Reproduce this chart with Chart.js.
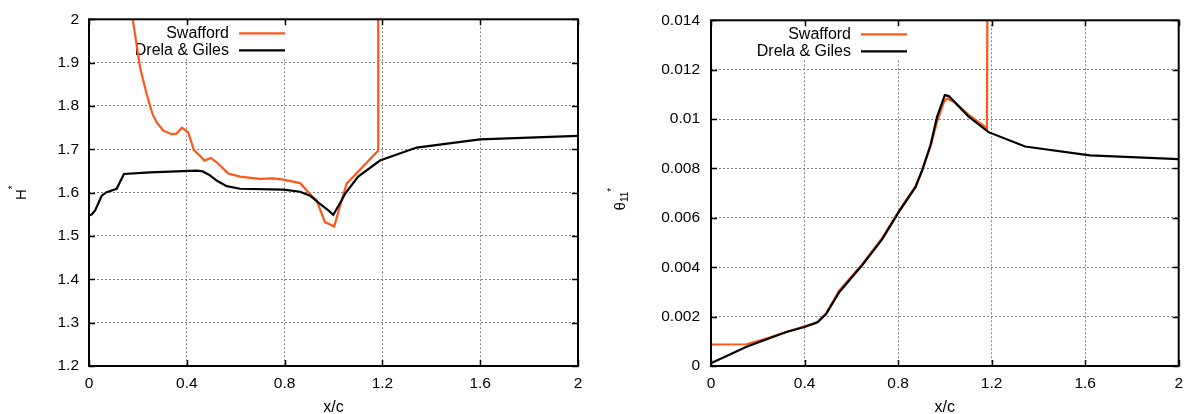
<!DOCTYPE html>
<html>
<head>
<meta charset="utf-8">
<script src="https://cdn.jsdelivr.net/npm/chart.js@4.4.1/dist/chart.umd.min.js"></script>
<style>
html,body{margin:0;padding:0;background:#fff;}
#c1{position:absolute;left:0;top:0;}
#c2{position:absolute;left:600px;top:0;}
</style>
</head>
<body>
<canvas id="c1" width="600" height="414"></canvas>
<canvas id="c2" width="591" height="414"></canvas>
<script>
// ---- tick values and labels ----
const xTicks = [0, 0.4, 0.8, 1.2, 1.6, 2];
const xTickLabels = ['0', '0.4', '0.8', '1.2', '1.6', '2'];
const hTicks = [1.2, 1.3, 1.4, 1.5, 1.6, 1.7, 1.8, 1.9, 2];
const hTickLabels = ['1.2', '1.3', '1.4', '1.5', '1.6', '1.7', '1.8', '1.9', '2'];
const thetaTicks = [0, 0.002, 0.004, 0.006, 0.008, 0.01, 0.012, 0.014];
const thetaTickLabels = ['0', '0.002', '0.004', '0.006', '0.008', '0.01', '0.012', '0.014'];
const seriesNames = ['Swafford', 'Drela & Giles'];
const xTitle = 'x/c';

// ---- left panel: H* ----
const swaffordHx = [0.15, 0.179, 0.209, 0.236, 0.26, 0.277, 0.304, 0.338, 0.358, 0.38, 0.406, 0.429, 0.454, 0.472, 0.498, 0.522, 0.57, 0.618, 0.699, 0.754, 0.795, 0.863, 0.904, 0.931, 0.965, 1.003, 1.033, 1.054, 1.183, 1.183];
const swaffordH  = [2.11, 2.0, 1.888, 1.827, 1.781, 1.762, 1.743, 1.735, 1.736, 1.75, 1.739, 1.698, 1.685, 1.674, 1.68, 1.67, 1.644, 1.637, 1.632, 1.633, 1.63, 1.622, 1.597, 1.582, 1.532, 1.522, 1.582, 1.621, 1.697, 2.5];
const drelaHx = [0, 0.012, 0.025, 0.052, 0.072, 0.113, 0.143, 0.249, 0.44, 0.465, 0.495, 0.522, 0.563, 0.618, 0.795, 0.863, 0.904, 0.945, 0.979, 0.999, 1.033, 1.047, 1.101, 1.19, 1.34, 1.599, 2.0];
const drelaH  = [1.547, 1.55, 1.559, 1.593, 1.601, 1.609, 1.643, 1.647, 1.651, 1.649, 1.64, 1.628, 1.615, 1.609, 1.607, 1.602, 1.593, 1.574, 1.559, 1.549, 1.582, 1.597, 1.637, 1.674, 1.704, 1.723, 1.731];

// ---- right panel: theta11* ----
const swaffordTx = [0, 0.152, 0.237, 0.322, 0.40, 0.45, 0.492, 0.549, 0.648, 0.733, 0.804, 0.875, 0.904, 0.939, 0.967, 0.996, 1.01, 1.038, 1.102, 1.18, 1.184];
const swaffordT  = [0.00087, 0.00088, 0.00111, 0.00138, 0.00161, 0.00174, 0.00212, 0.00306, 0.00413, 0.0052, 0.00628, 0.00728, 0.00795, 0.0089, 0.0099, 0.0107, 0.01083, 0.0107, 0.01017, 0.00963, 0.02];
const drelaTx = [0, 0.152, 0.322, 0.40, 0.457, 0.492, 0.549, 0.648, 0.733, 0.804, 0.875, 0.904, 0.939, 0.967, 1.0, 1.017, 1.102, 1.187, 1.343, 1.62, 2.0];
const drelaT  = [0.00011, 0.00078, 0.00138, 0.00158, 0.00178, 0.0021, 0.003, 0.0041, 0.00515, 0.00625, 0.00725, 0.00795, 0.00896, 0.0101, 0.01097, 0.01093, 0.0101, 0.00947, 0.00889, 0.00853, 0.00838];

const ORANGE = '#ff5518';
const BLACK = '#000000';
const FONT = '"Liberation Sans", Arial, Helvetica, sans-serif';

Chart.defaults.font.family = FONT;
Chart.defaults.font.size = 15;
Chart.defaults.color = '#000';

function pts(xs, ys) { return xs.map((x, i) => ({x: x, y: ys[i]})); }

const gnuplotFrame = {
  id: 'gnuplotFrame',
  beforeDatasetsDraw(chart) {
    const {ctx, chartArea: a} = chart;
    const ds = chart.data.datasets;
    ctx.save();
    ctx.font = '16px ' + FONT;
    const textRight = a.left + 140;
    let maxW = 0;
    ds.forEach(d => { maxW = Math.max(maxW, ctx.measureText(d.label).width); });
    ctx.fillStyle = '#fff';
    ctx.fillRect(textRight - maxW - 4, a.top + 1, maxW + 4 + 62, 38);
    ctx.textAlign = 'right';
    ctx.textBaseline = 'middle';
    ds.forEach((d, i) => {
      const y = a.top + 14 + i * 17;
      ctx.fillStyle = '#000';
      ctx.fillText(d.label, textRight, y);
      ctx.strokeStyle = d.borderColor;
      ctx.lineWidth = 2.2;
      ctx.beginPath();
      ctx.moveTo(a.left + 150, y);
      ctx.lineTo(a.left + 196, y);
      ctx.stroke();
    });
    ctx.restore();
  },
  afterDraw(chart, args, opts) {
    const {ctx, chartArea: a, scales} = chart;
    ctx.save();
    ctx.strokeStyle = '#000';
    ctx.lineWidth = 1.5;
    const tl = 6;
    scales.x.ticks.forEach(t => {
      const px = Math.round(scales.x.getPixelForValue(t.value)) + 0.5;
      ctx.beginPath();
      ctx.moveTo(px, a.bottom); ctx.lineTo(px, a.bottom - tl);
      ctx.moveTo(px, a.top); ctx.lineTo(px, a.top + tl);
      ctx.stroke();
    });
    scales.y.ticks.forEach(t => {
      const py = Math.round(scales.y.getPixelForValue(t.value)) + 0.5;
      ctx.beginPath();
      ctx.moveTo(a.left, py); ctx.lineTo(a.left + tl, py);
      ctx.moveTo(a.right, py); ctx.lineTo(a.right - tl, py);
      ctx.stroke();
    });
    ctx.lineWidth = 2;
    ctx.strokeRect(a.left, a.top, a.right - a.left, a.bottom - a.top);
    // y-axis title with super/subscripts
    const parts = opts.titleParts;
    ctx.fillStyle = '#000';
    ctx.textBaseline = 'middle';
    ctx.textAlign = 'left';
    let total = 0;
    parts.forEach(p => { ctx.font = p[1] + 'px ' + FONT; total += ctx.measureText(p[0]).width; });
    ctx.translate(opts.titleX, (a.top + a.bottom) / 2 + opts.titleDy);
    ctx.rotate(-Math.PI / 2);
    let xt = -total / 2;
    parts.forEach(p => {
      ctx.font = p[1] + 'px ' + FONT;
      ctx.fillText(p[0], xt, p[2]);
      xt += ctx.measureText(p[0]).width;
    });
    ctx.restore();
  }
};

function makeChart(canvas, o) {
  return new Chart(canvas, {
    type: 'line',
    data: {
      datasets: [
        {label: seriesNames[0], data: pts(o.sx, o.sy), borderColor: ORANGE, borderWidth: 2.2, pointRadius: 0, tension: 0, fill: false, order: 2},
        {label: seriesNames[1], data: pts(o.dx, o.dy), borderColor: BLACK, borderWidth: 2.2, pointRadius: 0, tension: 0, fill: false, order: 1}
      ]
    },
    options: {
      responsive: false,
      animation: false,
      devicePixelRatio: 1,
      layout: {padding: {left: 0, top: 18, right: o.padRight, bottom: 0}},
      plugins: {
        legend: {display: false},
        tooltip: {enabled: false},
        gnuplotFrame: {titleParts: o.titleParts, titleX: o.titleX, titleDy: o.titleDy}
      },
      scales: {
        x: {
          type: 'linear', min: 0, max: 2,
          afterBuildTicks: s => { s.ticks = xTicks.map(v => ({value: v})); },
          afterFit: s => { s.height = 48; },
          ticks: {autoSkip: false, maxRotation: 0, padding: 8, color: '#000', font: {size: 15.5}, callback: (v, i) => xTickLabels[i]},
          grid: {color: '#808080', lineWidth: 1, drawTicks: false},
          border: {display: false, dash: [2, 2]},
          title: {display: true, text: xTitle, color: '#000', font: {size: 16}, padding: {top: 0, bottom: -3}}
        },
        y: {
          type: 'linear', min: o.yMin, max: o.yMax,
          afterBuildTicks: s => { s.ticks = o.yTicks.map(v => ({value: v})); },
          afterFit: s => { s.width = o.yWidth; },
          ticks: {autoSkip: false, padding: o.yPad, color: '#000', font: {size: 15.5}, callback: (v, i) => o.yLabels[i]},
          grid: {color: '#808080', lineWidth: 1, drawTicks: false},
          border: {display: false, dash: [2, 2]},
          title: {display: false}
        }
      }
    },
    plugins: [gnuplotFrame]
  });
}

makeChart(document.getElementById('c1'), {
  sx: swaffordHx, sy: swaffordH, dx: drelaHx, dy: drelaH,
  yMin: 1.2, yMax: 2, yTicks: hTicks, yLabels: hTickLabels,
  yWidth: 89, yPad: 10, padRight: 22,
  titleParts: [['H', 15, 0], ['*', 10, -8]], titleX: 21.5, titleDy: 0
});

makeChart(document.getElementById('c2'), {
  sx: swaffordTx, sy: swaffordT, dx: drelaTx, dy: drelaT,
  yMin: 0, yMax: 0.014, yTicks: thetaTicks, yLabels: thetaTickLabels,
  yWidth: 111, yPad: 11, padRight: 10,
  titleParts: [['θ', 15, 0], ['11', 10, 5], ['*', 10, -8]], titleX: 20.7, titleDy: 6
});
</script>
</body>
</html>
